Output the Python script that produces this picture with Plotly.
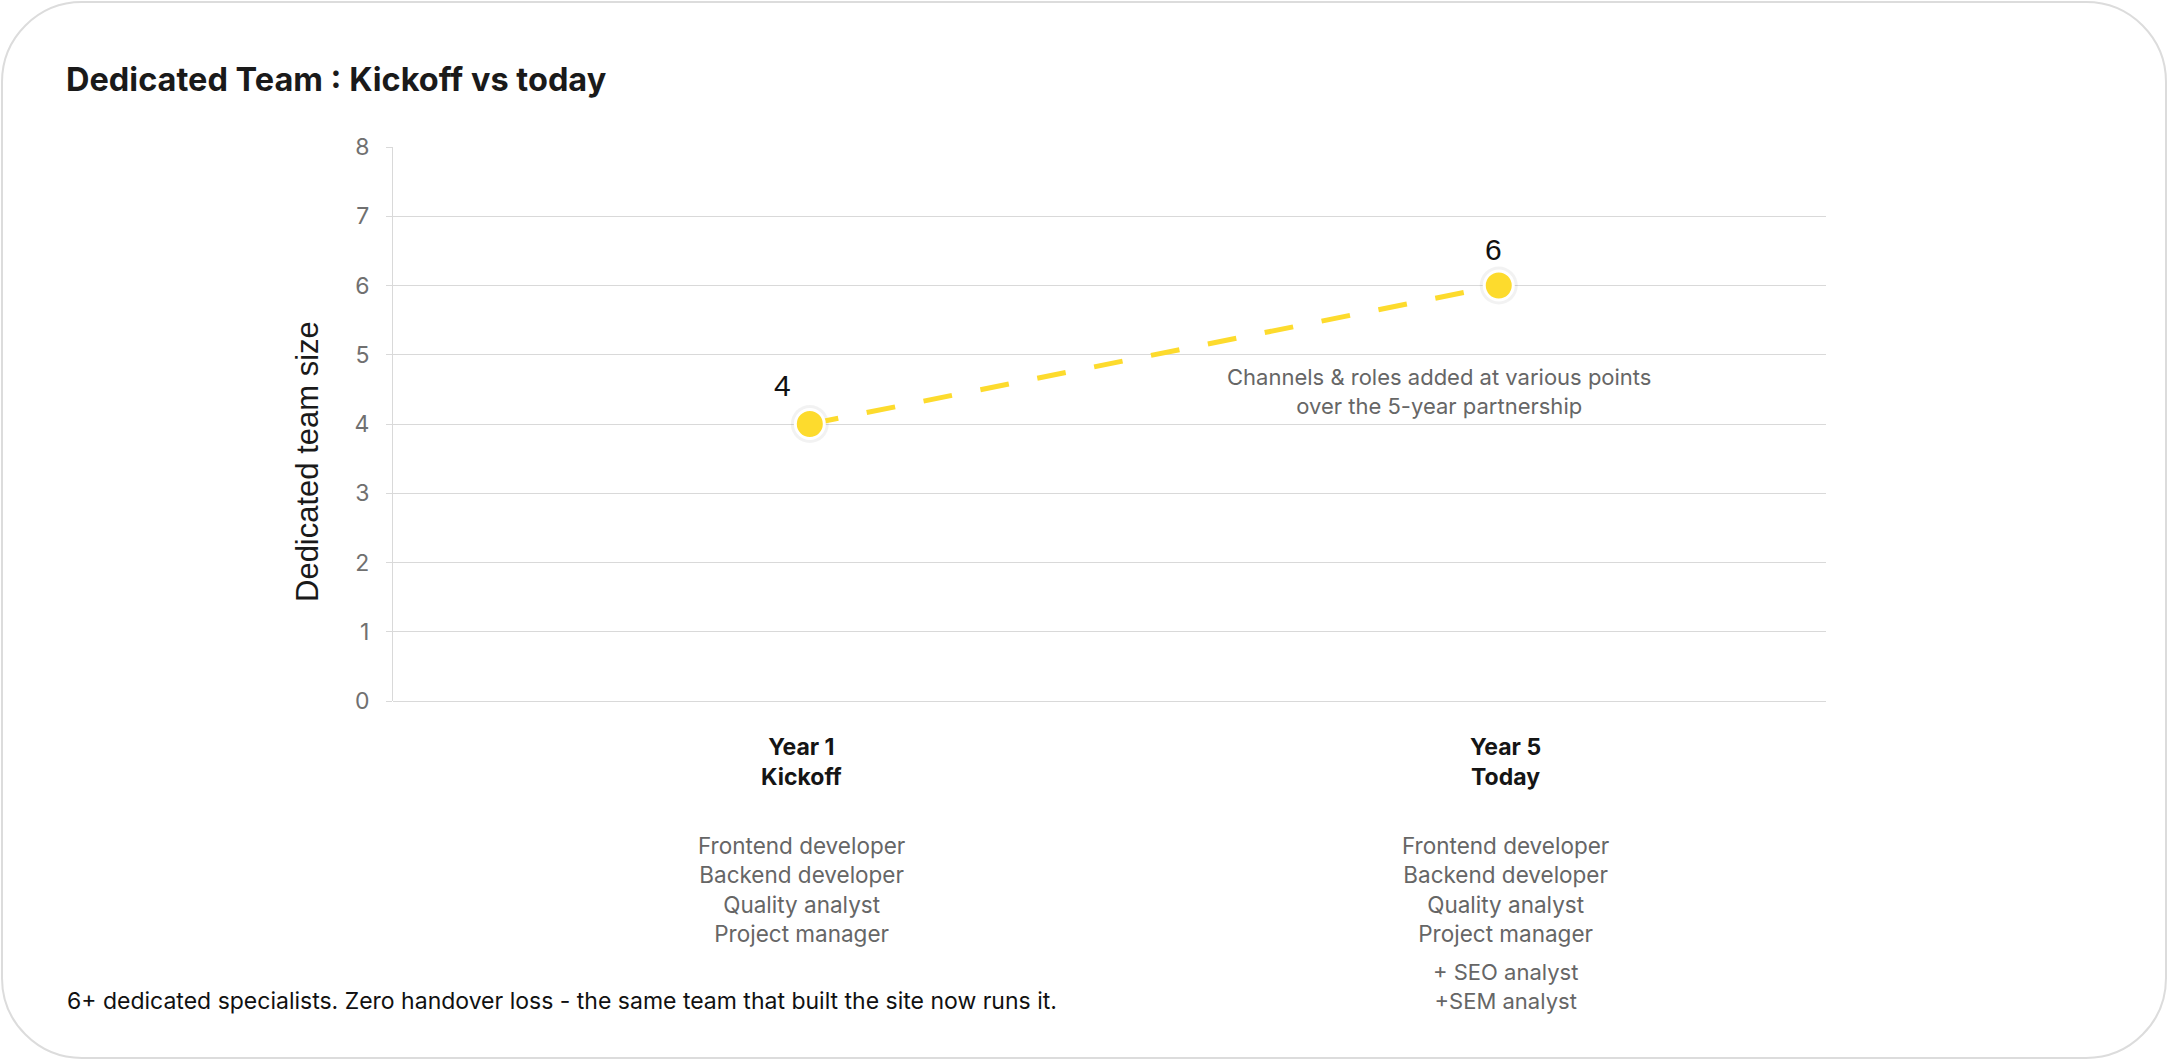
import plotly.graph_objects as go

# data
stages = ["Year 1", "Year 5"]
stage_names = ["Kickoff", "Today"]
team_size = [4, 6]
core_roles = ["Frontend developer", "Backend developer", "Quality analyst", "Project manager"]
added_roles = ["+ SEO analyst", "+SEM analyst"]

YELLOW = "#FDDB2D"
GREY = "#d9d9d9"

# plot box in pixels (2168 x 1060 page)
L, R, T, B = 393, 1826, 147, 701
W, H = R - L, B - T


def px(x):
    return (x - L) / W


def py(y):
    return (B - y) / H


fig = go.Figure()

# soft shadow under markers
fig.add_trace(go.Scatter(
    x=stages, y=team_size, mode="markers",
    marker=dict(size=38, color="rgba(0,0,0,0.05)"),
    hoverinfo="skip", showlegend=False,
))

fig.add_trace(go.Scatter(
    x=stages, y=team_size, mode="lines+markers",
    line=dict(color=YELLOW, width=5, dash="29px,29px"),
    marker=dict(size=29, color=YELLOW, line=dict(color="white", width=3)),
    hoverinfo="skip", showlegend=False,
))

annotations = []

# value labels
label_shift = [(-27, 39), (-5, 36)]
for s, v, (dx, dy) in zip(stages, team_size, label_shift):
    annotations.append(dict(
        x=s, y=v, xref="x", yref="y", text=str(v), showarrow=False,
        xshift=dx, yshift=dy, xanchor="center", yanchor="middle",
        font=dict(family="Liberation Sans, Arial", size=30, color="#111111"),
    ))

# category labels under the axis
cat_shift = [-8, 7]
for s, name, dx in zip(stages, stage_names, cat_shift):
    annotations.append(dict(
        x=s, y=py(762), xref="x", yref="paper", xshift=dx,
        text="<b>" + s + "<br>" + name + "</b>", showarrow=False,
        xanchor="center", yanchor="middle",
        font=dict(family="Inter", size=23, color="#151515"),
    ))
    annotations.append(dict(
        x=s, y=py(889), xref="x", yref="paper", xshift=dx,
        text="<br>".join(core_roles), showarrow=False,
        xanchor="center", yanchor="middle",
        font=dict(family="Inter", size=22.5, color="#666666"),
    ))

annotations.append(dict(
    x=stages[1], y=py(986), xref="x", yref="paper", xshift=cat_shift[1],
    text="<br>".join(added_roles), showarrow=False,
    xanchor="center", yanchor="middle",
    font=dict(family="Inter", size=22, color="#666666"),
))

# note beside the line
annotations.append(dict(
    x=px(1439), y=py(391), xref="paper", yref="paper",
    text="Channels &amp; roles added at various points<br>over the 5-year partnership",
    showarrow=False, xanchor="center", yanchor="middle",
    font=dict(family="Inter", size=22, color="#666666"),
))

# y axis title
annotations.append(dict(
    x=px(307), y=py(462), xref="paper", yref="paper",
    text="Dedicated team size", textangle=-90, showarrow=False,
    xanchor="center", yanchor="middle",
    font=dict(family="Liberation Sans, Arial", size=31, color="#1a1a1a"),
))

# footer
annotations.append(dict(
    x=px(65), y=py(1001), xref="paper", yref="paper",
    text="6+ dedicated specialists. Zero handover loss - the same team that built the site now runs it.",
    showarrow=False, xanchor="left", yanchor="middle",
    font=dict(family="Inter", size=23, color="#111111"),
))

# rounded card border
x0, x1, y0, y1 = px(2), px(2166), py(1058), py(2)
r = 80
rx, ry = r / W, r / H
k = 0.5523
card = (
    f"M {x0 + rx} {y1} L {x1 - rx} {y1} "
    f"C {x1 - rx + k * rx} {y1} {x1} {y1 - ry + k * ry} {x1} {y1 - ry} "
    f"L {x1} {y0 + ry} "
    f"C {x1} {y0 + ry - k * ry} {x1 - rx + k * rx} {y0} {x1 - rx} {y0} "
    f"L {x0 + rx} {y0} "
    f"C {x0 + rx - k * rx} {y0} {x0} {y0 + ry - k * ry} {x0} {y0 + ry} "
    f"L {x0} {y1 - ry} "
    f"C {x0} {y1 - ry + k * ry} {x0 + rx - k * rx} {y1} {x0 + rx} {y1} Z"
)

fig.update_layout(
    width=2168, height=1060,
    margin=dict(l=L, r=2168 - R, t=T, b=1060 - B),
    paper_bgcolor="white", plot_bgcolor="white",
    title=dict(
        text="<b>Dedicated Team : Kickoff vs today</b>",
        x=66 / 2168, xref="container", xanchor="left",
        y=1 - 80 / 1060, yref="container", yanchor="middle",
        font=dict(family="Inter", size=32.5, color="#1a1a1a"),
    ),
    xaxis=dict(
        type="category", range=[-0.605, 1.475],
        showticklabels=False, showgrid=False, zeroline=False, showline=False,
        fixedrange=True,
    ),
    yaxis=dict(
        range=[0, 8], dtick=1, showgrid=True, gridcolor=GREY, gridwidth=1,
        zeroline=True, zerolinecolor=GREY, zerolinewidth=1,
        showline=True, linecolor=GREY, linewidth=1,
        ticks="outside", ticklen=6, tickcolor=GREY, ticklabelstandoff=12,
        tickfont=dict(family="Inter", size=23, color="#707070"),
        fixedrange=True,
    ),
    annotations=annotations,
    shapes=[dict(type="path", xref="paper", yref="paper", path=card,
                 line=dict(color="#dcdcdc", width=2), layer="below")],
    hovermode=False,
    showlegend=False,
)

fig.write_html("out.html", config={"displayModeBar": False},
               post_script="document.body.style.margin='0px';")
